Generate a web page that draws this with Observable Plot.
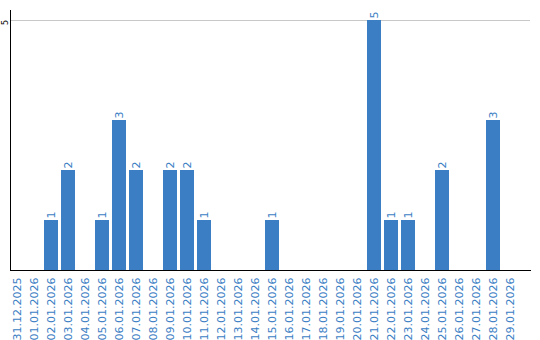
<!DOCTYPE html>
<html>
<head>
<meta charset="utf-8">
<script src="https://cdn.jsdelivr.net/npm/d3@7"></script>
<script src="https://cdn.jsdelivr.net/npm/@observablehq/plot@0.6"></script>
<style>
  html, body { margin: 0; padding: 0; background: #fff; }
  #chart { width: 540px; height: 340px; }
</style>
</head>
<body>
<div id="chart"></div>
<script>
const dates = [
  "31.12.2025","01.01.2026","02.01.2026","03.01.2026","04.01.2026","05.01.2026",
  "06.01.2026","07.01.2026","08.01.2026","09.01.2026","10.01.2026","11.01.2026",
  "12.01.2026","13.01.2026","14.01.2026","15.01.2026","16.01.2026","17.01.2026",
  "18.01.2026","19.01.2026","20.01.2026","21.01.2026","22.01.2026","23.01.2026",
  "24.01.2026","25.01.2026","26.01.2026","27.01.2026","28.01.2026","29.01.2026"
];
const counts = [
  0,0,1,2,0,1,
  3,2,0,2,2,1,
  0,0,0,1,0,0,
  0,0,0,5,1,1,
  0,2,0,0,3,0
];
const yTicks = [5];

const data = dates.map((d, i) => ({date: d, count: counts[i]}));
const nonZero = data.filter(d => d.count > 0);

const blue = "#3b7ec4";

const chart = Plot.plot({
  width: 540,
  height: 340,
  marginTop: 10,
  marginRight: 10,
  marginBottom: 70,
  marginLeft: 10,
  style: {fontFamily: "DejaVu Sans", background: "#fff"},
  x: {type: "band", domain: dates, range: [8.5, 518.5], paddingInner: 0.18, paddingOuter: 0.09, axis: null},
  y: {domain: [0, 5], range: [270, 20], axis: null},
  marks: [
    Plot.gridY(yTicks, {stroke: "#c8c8c8", strokeOpacity: 1}),
    Plot.barY(data, {x: "date", y: "count", fill: blue}),
    Plot.text(nonZero, {
      x: "date", y: "count", text: d => String(d.count),
      rotate: -90, textAnchor: "start", lineAnchor: "middle",
      dy: -2, fontSize: 11, fill: blue
    }),
    Plot.axisX({
      tickSize: 0, tickPadding: 7, tickRotate: -90, fontSize: 11,
      fill: blue, label: null, textAnchor: "end"
    }),
    Plot.text(yTicks, {
      y: d => d, text: d => String(d), frameAnchor: "left",
      rotate: -90, textAnchor: "middle", lineAnchor: "bottom",
      dx: -3, dy: 2, fontSize: 8, fill: "#000"
    }),
    Plot.frame({anchor: "left", stroke: "#000"}),
    Plot.frame({anchor: "bottom", stroke: "#000"})
  ]
});
document.getElementById("chart").appendChild(chart);
</script>
</body>
</html>
